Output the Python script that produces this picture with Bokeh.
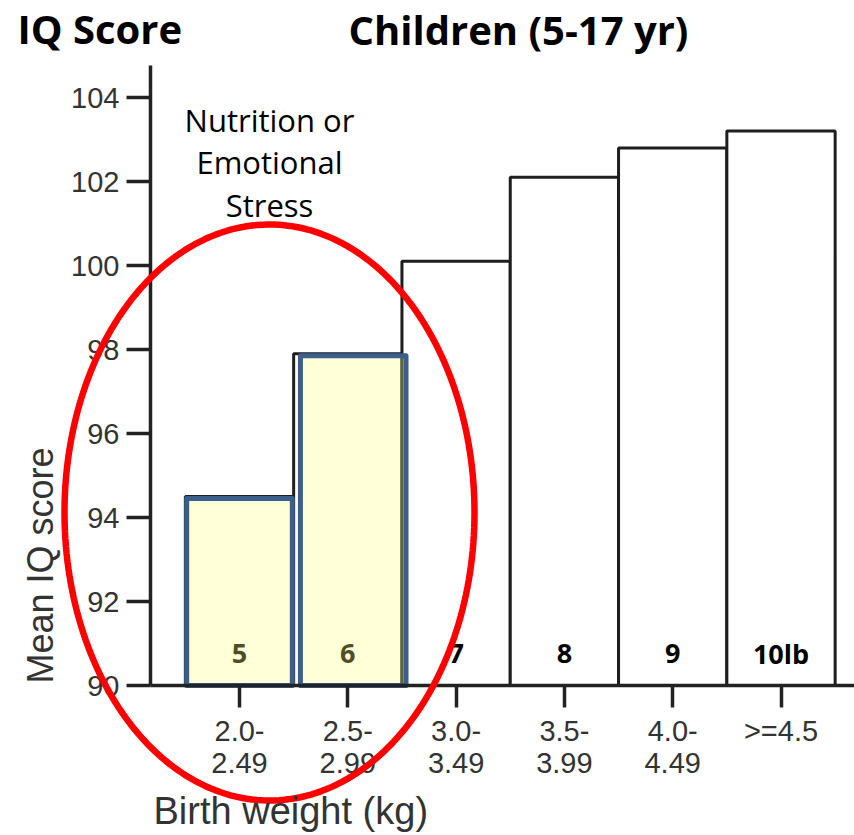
import numpy as np
from bokeh.plotting import figure
from bokeh.models import Range1d, FixedTicker, Label, PolyAnnotation
from bokeh.core.properties import value
from bokeh.embed import file_html
from bokeh.resources import INLINE

# ---------------- data ----------------
weight_bins = ["2.0-\n2.49", "2.5-\n2.99", "3.0-\n3.49", "3.5-\n3.99", "4.0-\n4.49", ">=4.5"]
mean_iq = [94.5, 97.9, 100.1, 102.1, 102.8, 103.2]
pound_labels = ["5", "6", "7", "8", "9", "10lb"]
highlight_idx = [0, 1]
y_ticks = [90, 92, 94, 96, 98, 100, 102, 104]
title_left = "IQ Score"
title_right = "Children (5-17 yr)"
annotation_lines = ["Nutrition or", "Emotional", "Stress"]
x_title = "Birth weight (kg)"
y_title = "Mean IQ score"

# ---------------- layout geometry (pixels of the canvas) ----------------
W, H = 854, 835
AX_L, AX_T, AX_B = 150, 65, 685      # y-axis x, y-axis top, x-axis y
PX_X = 108.3                 # pixels per category
FIRST_CENTER = 239           # x of first category centre
PX_Y = 42.0                  # pixels per IQ point
BASE = 90.0
BL = 0.4                     # baseline correction (fraction of font size)


def dx(px):
    return (px - FIRST_CENTER) / PX_X


def dy(py):
    return BASE + (AX_B - py) / PX_Y


xs = list(range(len(weight_bins)))

p = figure(width=W, height=H, x_range=Range1d(dx(0), dx(W)), y_range=Range1d(dy(H), dy(0)),
           output_backend="svg", toolbar_location=None)
p.min_border = 0
p.min_border_left = 0
p.min_border_right = 0
p.min_border_top = 0
p.min_border_bottom = 0
p.grid.visible = False
p.outline_line_color = None
p.background_fill_color = "white"
p.border_fill_color = "white"

# white bars
p.vbar(x=xs, top=mean_iq, bottom=BASE, width=1.0, fill_color="white",
       line_color="#1e1e1e", line_width=3)

# pound labels inside bars
p.text(x=xs, y=[BASE + 0.76] * len(xs), text=pound_labels,
       text_font=value("Open Sans"), text_font_style="bold", text_font_size="27px",
       text_align="center", text_baseline="middle", text_color="#000000")

# highlighted (yellow) boxes
shift = [0.0, 0.05]
hx = [xs[i] + shift[k] for k, i in enumerate(highlight_idx)]
ht = [mean_iq[i] - 0.05 for i in highlight_idx]
p.vbar(x=hx, top=ht, bottom=BASE, width=0.975, fill_color="#FFFF7D", fill_alpha=0.3,
       line_color="#3B5E8C", line_width=5, line_join="round")

# red ellipse annotation
t = np.linspace(0, 2 * np.pi, 240)
ecx, ecy = dx(269), dy(512)
erx, ery = 205 / PX_X, 288 / PX_Y
ell = PolyAnnotation(xs=list(ecx + erx * np.cos(t)), ys=list(ecy + ery * np.sin(t)),
                     fill_alpha=0, line_color="#FF0000", line_alpha=1.0, line_width=6.5)
p.add_layout(ell)

# axes, fixed inside the full-canvas frame
p.yaxis.fixed_location = dx(AX_L)
p.yaxis.bounds = (BASE, dy(AX_T))
p.yaxis.ticker = FixedTicker(ticks=y_ticks)
p.yaxis.major_tick_out = 24
p.yaxis.major_tick_in = 0
p.yaxis.minor_tick_out = 0
p.yaxis.minor_tick_in = 0
p.yaxis.major_label_standoff = 7
p.yaxis.major_label_text_font = "Liberation Sans"
p.yaxis.major_label_text_font_size = "29px"
p.yaxis.major_label_text_color = "#333333"
p.yaxis.axis_line_width = 3.5
p.yaxis.axis_line_color = "#222222"
p.yaxis.major_tick_line_width = 3.5
p.yaxis.major_tick_line_color = "#222222"

p.xaxis.fixed_location = BASE
p.xaxis.bounds = (dx(AX_L), dx(W))
p.xaxis.ticker = FixedTicker(ticks=xs)
p.xaxis.major_label_overrides = {i: lab for i, lab in enumerate(weight_bins)}
p.xaxis.major_tick_out = 22
p.xaxis.major_tick_in = 0
p.xaxis.minor_tick_out = 0
p.xaxis.minor_tick_in = 0
p.xaxis.major_label_standoff = 7
p.xaxis.major_label_text_font = "Liberation Sans"
p.xaxis.major_label_text_font_size = "29px"
p.xaxis.major_label_text_line_height = 1.0
p.xaxis.major_label_text_color = "#333333"
p.xaxis.axis_line_width = 3.5
p.xaxis.axis_line_color = "#222222"
p.xaxis.major_tick_line_width = 3.5
p.xaxis.major_tick_line_color = "#222222"


def add_text(px, base_px, text, font, size, bold=False, color="black", align="left"):
    p.add_layout(Label(x=dx(px), y=dy(base_px - BL * size), text=text, text_font=font,
                       text_font_style="bold" if bold else "normal",
                       text_font_size=f"{size}px", text_color=color,
                       text_align=align, text_baseline="alphabetic"))


# titles
add_text(17, 44, title_left, "Open Sans", 40, bold=True)
add_text(348, 45, title_right, "Open Sans", 40, bold=True)

# annotation text
for line, base in zip(annotation_lines, [132, 174, 217]):
    add_text(269, base, line, "Open Sans", 31, align="center")

# axis titles
p.add_layout(Label(x=dx(40), y=dy(565), text=y_title, angle=np.pi / 2,
                   text_font="Liberation Sans", text_font_size="36px", text_color="#333333",
                   text_align="center", text_baseline="middle"))
add_text(153, 826, x_title, "Liberation Sans", 38, color="#333333")

open("out.html", "w").write(file_html(p, INLINE))
